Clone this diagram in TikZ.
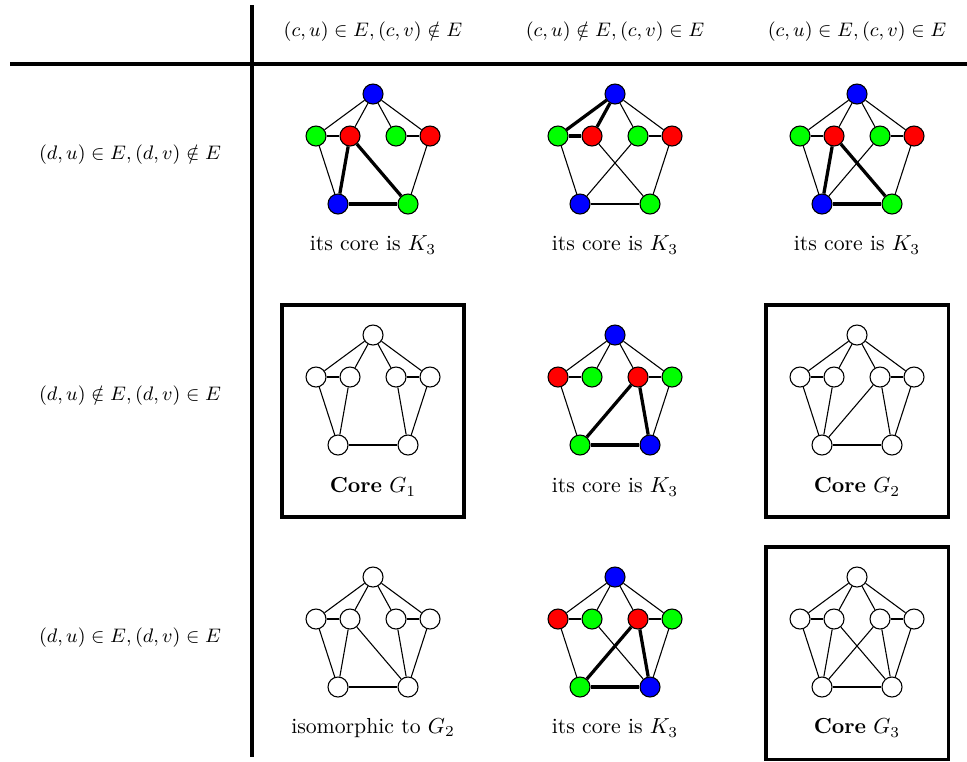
\documentclass[tikz,border=0pt]{standalone}
\usepackage{amsmath}
\usetikzlibrary{calc}
\tikzset{
  vx/.style     = {circle, draw, line width=0.5pt, inner sep=0pt, minimum size=9.2pt},
  edge/.style   = {line width=0.5pt},
  hot/.style    = {line width=1.5pt},
  rule/.style   = {line width=1.4pt},
  frame/.style  = {line width=1.4pt},
  head/.style   = {font=\fontsize{9.4}{11}\selectfont},
  caption/.style= {font=\normalsize}
}

\begin{document}
\begin{tikzpicture}[x=0.46pt, y=-0.46pt]
\useasboundingbox (0,0) rectangle (967,761);

% Table rules
\draw[rule] (10,64) -- (967,64);
\draw[rule] (252,5) -- (252,757);

% Column headers
\node[head] (hd1) at (373,32) {$(c,u)\in E,(c,v)\notin E$};
\node[head] (hd2) at (615,32) {$(c,u)\notin E,(c,v)\in E$};
\node[head] (hd3) at (857,32) {$(c,u)\in E,(c,v)\in E$};

% Row labels
\node[head] (rl1) at (130,155) {$(d,u)\in E,(d,v)\notin E$};
\node[head] (rl2) at (130,396) {$(d,u)\notin E,(d,v)\in E$};
\node[head] (rl3) at (130,638) {$(d,u)\in E,(d,v)\in E$};

% Vertices and common edges of each graph
\foreach \g/\cx/\cy/\ct/\clo/\cli/\cri/\cro/\cbl/\cbr in {
    11/373/94/blue/green/red/green/red/blue/green,
    12/615/94/blue/green/red/green/red/blue/green,
    13/857/94/blue/green/red/green/red/blue/green,
    21/373/335/white/white/white/white/white/white/white,
    22/615/335/blue/red/green/red/green/green/blue,
    23/857/335/white/white/white/white/white/white/white,
    31/373/577/white/white/white/white/white/white/white,
    32/615/577/blue/red/green/red/green/green/blue,
    33/857/577/white/white/white/white/white/white/white}{
  \node[vx, fill=\ct]  (g\g top) at (\cx,\cy) {};
  \node[vx, fill=\clo] (g\g lo) at (\cx-57,\cy+42) {};
  \node[vx, fill=\cli] (g\g li) at (\cx-23,\cy+42) {};
  \node[vx, fill=\cri] (g\g ri) at (\cx+23,\cy+42) {};
  \node[vx, fill=\cro] (g\g ro) at (\cx+57,\cy+42) {};
  \node[vx, fill=\cbl] (g\g bl) at (\cx-35,\cy+110) {};
  \node[vx, fill=\cbr] (g\g br) at (\cx+35,\cy+110) {};
  \draw[edge] (g\g top) -- (g\g lo);
  \draw[edge] (g\g top) -- (g\g li);
  \draw[edge] (g\g top) -- (g\g ri);
  \draw[edge] (g\g top) -- (g\g ro);
  \draw[edge] (g\g lo) -- (g\g li);
  \draw[edge] (g\g ri) -- (g\g ro);
  \draw[edge] (g\g lo) -- (g\g bl);
  \draw[edge] (g\g ro) -- (g\g br);
  \draw[edge] (g\g bl) -- (g\g br);
}

% Row 1
\draw[hot] (g11li) -- (g11bl);
\draw[hot] (g11li) -- (g11br);
\draw[hot] (g11bl) -- (g11br);

\draw[hot] (g12top) -- (g12lo);
\draw[hot] (g12top) -- (g12li);
\draw[hot] (g12lo) -- (g12li);
\draw[edge] (g12li) -- (g12br);
\draw[edge] (g12ri) -- (g12bl);

\draw[hot] (g13li) -- (g13bl);
\draw[hot] (g13li) -- (g13br);
\draw[hot] (g13bl) -- (g13br);
\draw[edge] (g13ri) -- (g13bl);

% Row 2
\draw[edge] (g21li) -- (g21bl);
\draw[edge] (g21ri) -- (g21br);

\draw[hot] (g22ri) -- (g22bl);
\draw[hot] (g22ri) -- (g22br);
\draw[hot] (g22bl) -- (g22br);

\draw[edge] (g23li) -- (g23bl);
\draw[edge] (g23ri) -- (g23bl);
\draw[edge] (g23ri) -- (g23br);

% Row 3
\draw[edge] (g31li) -- (g31bl);
\draw[edge] (g31li) -- (g31br);
\draw[edge] (g31ri) -- (g31br);

\draw[edge] (g32li) -- (g32br);
\draw[hot] (g32ri) -- (g32bl);
\draw[hot] (g32ri) -- (g32br);
\draw[hot] (g32bl) -- (g32br);

\draw[edge] (g33li) -- (g33bl);
\draw[edge] (g33li) -- (g33br);
\draw[edge] (g33ri) -- (g33bl);
\draw[edge] (g33ri) -- (g33br);

% Captions
\node[caption] (cap11) at (373,245) {its core is $K_3$};
\node[caption] (cap12) at (615,245) {its core is $K_3$};
\node[caption] (cap13) at (857,245) {its core is $K_3$};
\node[caption] (cap21) at (373,487) {\textbf{Core} $G_1$};
\node[caption] (cap22) at (615,487) {its core is $K_3$};
\node[caption] (cap23) at (857,487) {\textbf{Core} $G_2$};
\node[caption] (cap31) at (373,728) {isomorphic to $G_2$};
\node[caption] (cap32) at (615,728) {its core is $K_3$};
\node[caption] (cap33) at (857,728) {\textbf{Core} $G_3$};

% Frames round the cores
\draw[frame] ([shift={(-91,-30)}]g21top.center) rectangle ([shift={(91,182)}]g21top.center);
\draw[frame] ([shift={(-91,-30)}]g23top.center) rectangle ([shift={(91,182)}]g23top.center);
\draw[frame] ([shift={(-91,-30)}]g33top.center) rectangle ([shift={(91,182)}]g33top.center);

\end{tikzpicture}
\end{document}
